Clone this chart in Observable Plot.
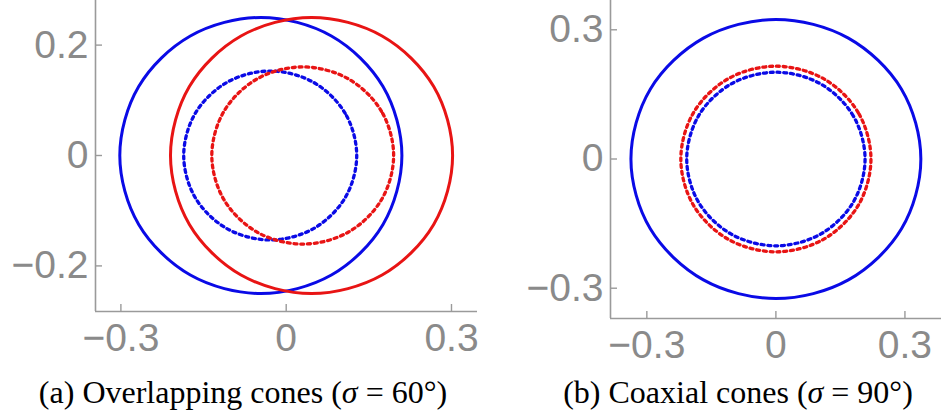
<!DOCTYPE html>
<html>
<head>
<meta charset="utf-8">
<script src="https://cdn.jsdelivr.net/npm/d3@7"></script>
<script src="https://cdn.jsdelivr.net/npm/@observablehq/plot@0.6"></script>
<style>
  html, body { margin: 0; padding: 0; background: #fff; }
  #root { position: relative; width: 941px; height: 419px; overflow: hidden; background: #fff; }
  #panelA, #panelB { position: absolute; top: 0; }
  #panelA { left: 0; }
  #panelB { left: 480px; }
  .cap { position: absolute; top: 376px; font-family: "Liberation Serif", "Times New Roman", serif; font-size: 32px; line-height: 32px; color: #000; white-space: nowrap; transform: translateX(-50%); }
</style>
</head>
<body>
<div id="root">
  <div id="panelA"></div>
  <div id="panelB"></div>
  <div class="cap" id="capA" style="left:243px"></div>
  <div class="cap" id="capB" style="left:738px"></div>
</div>
<script>
// ---- Data, 12 points per curve, every 30° ----
// Panel (a): overlapping cones
const aBlueSolid = [[0.210,0],[0.1757,0.125],[0.082,0.2165],[-0.046,0.25],[-0.174,0.2165],[-0.2677,0.125],[-0.302,0],[-0.2677,-0.125],[-0.174,-0.2165],[-0.046,-0.25],[0.082,-0.2165],[0.1757,-0.125]];
const aRedSolid = [[0.302,0],[0.2677,0.125],[0.174,0.2165],[0.046,0.25],[-0.082,0.2165],[-0.1757,0.125],[-0.210,0],[-0.1757,-0.125],[-0.082,-0.2165],[0.046,-0.25],[0.174,-0.2165],[0.2677,-0.125]];
const aBlueDotted = [[0.128,0],[0.107,0.0765],[0.0495,0.1325],[-0.029,0.153],[-0.1075,0.1325],[-0.165,0.0765],[-0.186,0],[-0.165,-0.0765],[-0.1075,-0.1325],[-0.029,-0.153],[0.0495,-0.1325],[0.107,-0.0765]];
const aRedDotted = [[0.195,0],[0.173,0.080],[0.1125,0.139],[0.030,0.1605],[-0.0525,0.139],[-0.113,0.080],[-0.135,0],[-0.113,-0.080],[-0.0525,-0.139],[0.030,-0.1605],[0.1125,-0.139],[0.173,-0.080]];
// Panel (b): coaxial cones
const bBlueSolid = [[0.337,0],[0.292,0.162],[0.1685,0.2806],[0,0.324],[-0.1685,0.2806],[-0.292,0.162],[-0.337,0],[-0.292,-0.162],[-0.1685,-0.2806],[0,-0.324],[0.1685,-0.2806],[0.292,-0.162]];
const bRedDotted = [[0.221,0],[0.1914,0.1078],[0.1105,0.1866],[0,0.2155],[-0.1105,0.1866],[-0.1914,0.1078],[-0.221,0],[-0.1914,-0.1078],[-0.1105,-0.1866],[0,-0.2155],[0.1105,-0.1866],[0.1914,-0.1078]];
const bBlueDotted = [[0.2073,0],[0.1795,0.1008],[0.1037,0.1745],[0,0.2015],[-0.1037,0.1745],[-0.1795,0.1008],[-0.2073,0],[-0.1795,-0.1008],[-0.1037,-0.1745],[0,-0.2015],[0.1037,-0.1745],[0.1795,-0.1008]];

// Ticks and labels
const aXTicks = [-0.3, 0, 0.3];
const aXLabels = ["\u22120.3", "0", "0.3"];
const aYTicks = [-0.2, 0, 0.2];
const aYLabels = ["\u22120.2", "0", "0.2"];
const bXTicks = [-0.3, 0, 0.3];
const bXLabels = ["\u22120.3", "0", "0.3"];
const bYTicks = [-0.3, 0, 0.3];
const bYLabels = ["\u22120.3", "0", "0.3"];

const captionA = '(a) Overlapping cones (<i>σ</i> = 60°)';
const captionB = '(b) Coaxial cones (<i>σ</i> = 90°)';

// ---- Styles ----
const BLUE = "#0a0ae6";
const RED = "#e81414";
const GRAY = "#8a8a8a";
const AXIS = "#9a9a9a";
const FONT = "'Liberation Sans', Arial, sans-serif";

function panel(opts) {
  const {width, height, marginLeft, marginRight, marginBottom, xDomain, yDomain,
         xTicks, xLabels, yTicks, yLabels, curves} = opts;
  const fmt = (ticks, labels) => d => labels[ticks.indexOf(d)] ?? "";
  const marks = [];
  for (const c of curves) {
    marks.push(Plot.line(c.data, {
      x: d => d[0], y: d => d[1],
      curve: "catmull-rom-closed",
      stroke: c.color, strokeWidth: c.dotted ? 3.3 : 3,
      strokeDasharray: c.dotted ? "3,3.8" : null
    }));
  }
  marks.push(
    Plot.ruleX([xDomain[0]], {stroke: AXIS, strokeWidth: 1.6}),
    Plot.ruleY([yDomain[0]], {stroke: AXIS, strokeWidth: 1.6}),
    Plot.axisX(xTicks, {tickSize: -7, tickFormat: () => "", stroke: AXIS, strokeWidth: 1.4, label: null}),
    Plot.axisY(yTicks, {tickSize: -7, tickFormat: () => "", stroke: AXIS, strokeWidth: 1.4, label: null}),
    Plot.axisX(xTicks, {tickSize: 0, tickPadding: 12, tickFormat: fmt(xTicks, xLabels), fill: GRAY, fontSize: 39, fontFamily: FONT, label: null}),
    Plot.axisY(yTicks, {tickSize: 0, tickPadding: 7, tickFormat: fmt(yTicks, yLabels), fill: GRAY, fontSize: 39, fontFamily: FONT, label: null})
  );
  return Plot.plot({
    width, height, marginLeft, marginRight, marginTop: 0, marginBottom,
    x: {domain: xDomain}, y: {domain: yDomain},
    style: {background: "transparent", overflow: "visible", fontFamily: FONT},
    marks
  });
}

document.getElementById("panelA").appendChild(panel({
  width: 480, height: 361, marginLeft: 95, marginRight: 3, marginBottom: 50,
  xDomain: [-0.3461, 0.3472], yDomain: [-0.2826, 0.2808],
  xTicks: aXTicks, xLabels: aXLabels, yTicks: aYTicks, yLabels: aYLabels,
  curves: [
    {data: aBlueSolid, color: BLUE},
    {data: aRedSolid, color: RED},
    {data: aBlueDotted, color: BLUE, dotted: true},
    {data: aRedDotted, color: RED, dotted: true}
  ]
}));

document.getElementById("panelB").appendChild(panel({
  width: 461, height: 368, marginLeft: 130, marginRight: 0, marginBottom: 50,
  xDomain: [-0.3845, 0.385], yDomain: [-0.3703, 0.368],
  xTicks: bXTicks, xLabels: bXLabels, yTicks: bYTicks, yLabels: bYLabels,
  curves: [
    {data: bBlueSolid, color: BLUE},
    {data: bRedDotted, color: RED, dotted: true},
    {data: bBlueDotted, color: BLUE, dotted: true}
  ]
}));

document.getElementById("capA").innerHTML = captionA;
document.getElementById("capB").innerHTML = captionB;
</script>
</body>
</html>
